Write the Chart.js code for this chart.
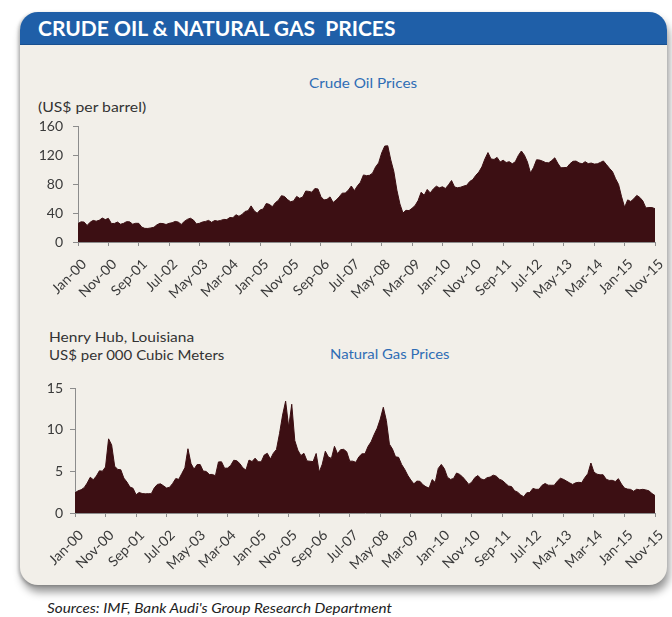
<!DOCTYPE html>
<html>
<head>
<meta charset="utf-8">
<script src="https://cdn.jsdelivr.net/npm/chart.js@4.4.0/dist/chart.umd.min.js"></script>
<style>
html,body{margin:0;padding:0;background:#fff;}
body{width:672px;height:617px;position:relative;overflow:hidden;font-family:Lato,"Open Sans",sans-serif;}
#panel{position:absolute;left:20px;top:12px;width:647px;height:573px;background:#f2efe9;border-radius:18px;box-shadow:2px 7px 8px rgba(0,0,0,0.42),-2px 1px 3px rgba(0,0,0,0.18);}
#header{position:absolute;left:20px;top:12px;width:647px;height:32px;background:#1f5fa8;border-radius:18px 18px 0 0;border-bottom:1px solid #184f8f;}
.t{position:absolute;white-space:nowrap;line-height:1;transform-origin:0 50%;}
canvas{position:absolute;left:0;}
</style>
</head>
<body>
<div id="panel"></div>
<div id="header"></div>
<div class="t" id="title" style="color:#fff;font-weight:bold;font-size:20px;">CRUDE OIL &amp; NATURAL GAS&nbsp; PRICES</div>
<div class="t" id="oilTitle" style="color:#2f6db5;font-size:14px;">Crude Oil Prices</div>
<div class="t" id="oilUnit" style="color:#333;font-size:14px;">(US$ per barrel)</div>
<div class="t" id="gasUnit1" style="color:#333;font-size:14px;">Henry Hub, Louisiana</div>
<div class="t" id="gasUnit2" style="color:#333;font-size:14px;">US$ per 000 Cubic Meters</div>
<div class="t" id="gasTitle" style="color:#2f6db5;font-size:14px;">Natural Gas Prices</div>
<div class="t" id="source" style="color:#222;font-size:13.5px;font-style:italic;">Sources: IMF, Bank Audi's Group Research Department</div>
<canvas id="oil" width="672" height="205" style="top:100px"></canvas>
<canvas id="gas" width="672" height="215" style="top:360px"></canvas>
<script>
// ---- DATA ----
const monthNames = ['Jan','Feb','Mar','Apr','May','Jun','Jul','Aug','Sep','Oct','Nov','Dec'];
const months = [];
for (let y = 2000; y <= 2015; y++) {
  for (let m = 0; m < 12; m++) {
    if (y === 2015 && m > 10) break;
    months.push(monthNames[m] + '-' + String(y % 100).padStart(2, '0'));
  }
}
const oilTicks = [0, 40, 80, 120, 160];
const gasTicks = [0, 5, 10, 15];

const crudeOil = [
  25.5, 27.8, 27.5, 22.8, 27.3, 29.8, 28.7, 30.0, 33.0, 30.9, 32.6, 25.5,
  25.6, 27.5, 24.5, 25.7, 28.1, 27.8, 24.6, 25.8, 25.7, 20.5, 18.8, 18.7,
  19.4, 20.3, 23.7, 25.7, 25.4, 24.1, 25.7, 26.6, 28.4, 27.5, 24.3, 28.3,
  31.2, 32.8, 30.3, 25.0, 25.8, 27.6, 28.4, 29.8, 27.1, 29.6, 28.8, 29.8,
  31.2, 30.9, 33.8, 33.4, 37.6, 35.5, 37.9, 42.1, 43.2, 49.8, 43.1, 39.7,
  44.3, 45.6, 53.1, 51.9, 48.7, 54.3, 57.5, 63.9, 62.8, 58.5, 55.5, 56.7,
  62.9, 60.2, 62.1, 70.3, 69.8, 68.7, 73.7, 73.2, 62.5, 58.0, 58.8, 62.2,
  54.5, 57.8, 62.1, 67.4, 67.5, 71.3, 77.2, 70.8, 77.2, 82.4, 92.5, 91.5,
  92.0, 95.0, 103.6, 109.1, 122.8, 132.3, 132.7, 113.2, 97.2, 71.6, 52.5, 40.0,
  43.7, 43.3, 46.5, 50.2, 57.3, 68.6, 64.4, 72.5, 67.7, 73.2, 77.0, 74.7,
  76.2, 73.8, 78.8, 84.8, 75.9, 74.8, 75.6, 77.1, 78.2, 83.5, 86.1, 92.0,
  96.5, 103.7, 114.6, 123.3, 114.5, 113.9, 116.7, 110.4, 112.8, 109.6, 110.8, 107.9,
  110.7, 119.3, 125.5, 119.8, 110.3, 95.2, 102.6, 113.4, 113.0, 111.5, 109.5, 109.2,
  112.3, 116.1, 108.5, 102.3, 102.6, 102.9, 107.9, 111.3, 111.6, 109.1, 107.8, 110.8,
  108.1, 108.9, 107.5, 107.8, 109.7, 111.8, 106.8, 101.6, 97.1, 87.4, 79.4, 62.3,
  47.8, 58.1, 55.9, 59.5, 64.3, 61.5, 56.6, 47.0, 47.6, 47.5, 46.0
];

const naturalGas = [
  2.42, 2.66, 2.79, 3.04, 3.59, 4.29, 3.99, 4.43, 5.06, 5.02, 5.52, 8.90,
  8.17, 5.61, 5.23, 5.19, 4.19, 3.72, 3.11, 2.97, 2.19, 2.46, 2.34, 2.30,
  2.32, 2.32, 3.03, 3.43, 3.50, 3.26, 2.99, 3.09, 3.55, 4.13, 4.04, 4.74,
  5.43, 7.71, 5.93, 5.26, 5.81, 5.82, 5.03, 4.99, 4.62, 4.63, 4.47, 6.13,
  6.14, 5.37, 5.39, 5.71, 6.33, 6.27, 5.93, 5.41, 5.15, 6.35, 6.17, 6.58,
  6.15, 6.14, 6.96, 7.16, 6.47, 7.18, 7.63, 9.53, 11.75, 13.42, 10.30, 13.05,
  8.69, 7.54, 6.89, 7.16, 6.25, 6.21, 6.17, 7.14, 4.90, 5.85, 7.41, 6.73,
  6.55, 8.00, 7.11, 7.60, 7.64, 7.35, 6.22, 6.22, 6.08, 6.74, 7.10, 7.11,
  7.99, 8.54, 9.41, 10.18, 11.27, 12.69, 11.09, 8.26, 7.67, 6.74, 6.68, 5.82,
  5.24, 4.52, 3.96, 3.50, 3.83, 3.80, 3.38, 3.14, 2.99, 4.01, 3.66, 5.35,
  5.83, 5.32, 4.29, 4.03, 4.14, 4.80, 4.63, 4.32, 3.89, 3.43, 3.71, 4.25,
  4.49, 4.09, 3.97, 4.24, 4.31, 4.54, 4.42, 4.06, 3.90, 3.57, 3.24, 3.17,
  2.67, 2.50, 2.17, 1.95, 2.43, 2.46, 2.95, 2.84, 2.85, 3.32, 3.54, 3.34,
  3.33, 3.33, 3.81, 4.17, 4.04, 3.83, 3.62, 3.43, 3.62, 3.68, 3.64, 4.24,
  4.71, 6.00, 4.90, 4.66, 4.58, 4.59, 4.05, 3.91, 3.92, 3.78, 4.12, 3.48,
  2.99, 2.87, 2.83, 2.61, 2.85, 2.78, 2.84, 2.77, 2.66, 2.34, 2.09
];

// ---- TEXT PLACEMENT ----
function place(id, left, cy, width) {
  const el = document.getElementById(id);
  el.style.left = left + 'px';
  el.style.top = (cy - el.offsetHeight / 2) + 'px';
  const w = el.offsetWidth;
  if (width) el.style.transform = 'scaleX(' + (width / w) + ')';
}
place('title', 38, 28, 357);
place('oilTitle', 309, 83, 108);
place('oilUnit', 38, 107, 108);
place('gasUnit1', 49, 337, 145);
place('gasUnit2', 49, 355, 175);
place('gasTitle', 330, 354, 120);
place('source', 47, 609, 345);

// ---- CHARTS ----
const FILL = '#3c0f13';
const AXIS = '#8c8c8c';
const FAMILY = 'Lato, "Open Sans", sans-serif';

function makeChart(id, values, ticks, padTop, yWidth, xHeight, labelPad) {
  return new Chart(document.getElementById(id), {
    type: 'line',
    data: {
      labels: months,
      datasets: [{
        data: values,
        fill: 'origin',
        backgroundColor: FILL,
        borderColor: FILL,
        borderWidth: 1,
        pointRadius: 0,
        tension: 0
      }]
    },
    options: {
      responsive: false,
      animation: false,
      events: [],
      layout: {padding: {top: padTop, right: 17, left: 0, bottom: 0}},
      plugins: {legend: {display: false}, tooltip: {enabled: false}},
      scales: {
        x: {
          type: 'category',
          offset: false,
          afterBuildTicks: s => { s.ticks = s.ticks.filter(t => t.value % 10 === 0); },
          afterFit: s => { s.height = xHeight; s.paddingLeft = 0; s.paddingRight = 0; },
          border: {display: true, color: AXIS, width: 1},
          grid: {display: true, drawOnChartArea: false, drawTicks: true, tickLength: 4, color: AXIS},
          ticks: {autoSkip: false, maxRotation: 45, minRotation: 45, padding: 10, labelOffset: 6,
                  color: '#3a3a3a', font: {family: FAMILY, size: 14}}
        },
        y: {
          min: ticks[0],
          max: ticks[ticks.length - 1],
          afterBuildTicks: s => { s.ticks = ticks.map(v => ({value: v})); },
          afterFit: s => { s.width = yWidth; },
          border: {display: true, color: AXIS, width: 1},
          grid: {display: true, drawOnChartArea: false, drawTicks: true, tickLength: 5, color: AXIS},
          ticks: {padding: labelPad, color: '#3a3a3a', font: {family: FAMILY, size: 14}}
        }
      }
    }
  });
}

makeChart('oil', crudeOil, oilTicks, 26, 78, 63, 10);
makeChart('gas', naturalGas, gasTicks, 28, 75, 62, 7);
</script>
</body>
</html>
